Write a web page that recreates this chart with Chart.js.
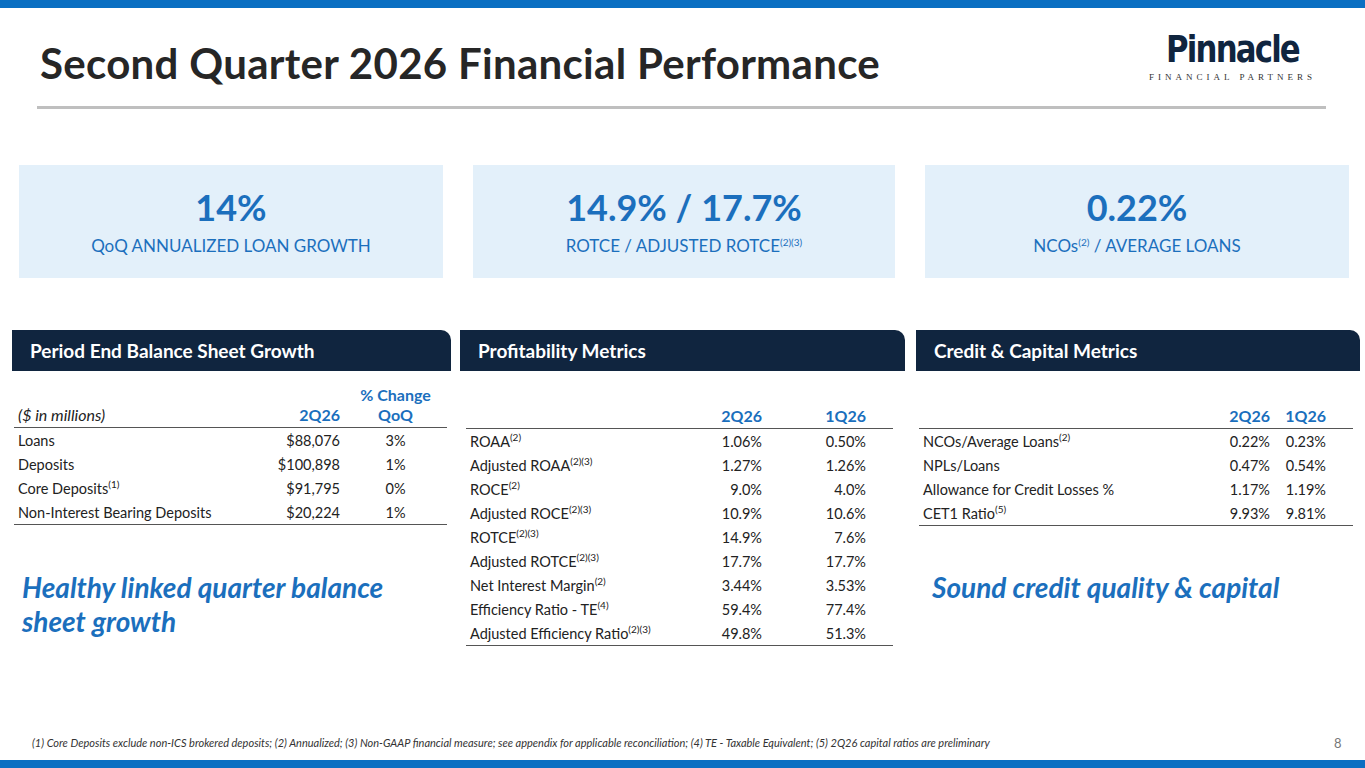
<!DOCTYPE html>
<html><head><meta charset="utf-8">
<script src="https://cdn.jsdelivr.net/npm/chart.js@4.4.1/dist/chart.umd.min.js"></script>
<style>
body{margin:0;width:1365px;height:768px;position:relative;overflow:hidden;font-family:Lato,"Open Sans",sans-serif;background:#fff;color:#222}
.abs{position:absolute}
.bar{left:0;width:1365px;height:8px;background:#0a6fc2}
h1{position:absolute;left:40px;top:38px;margin:0;font-size:42px;font-weight:700;color:#262626;letter-spacing:0.3px}
.kpi{top:165px;height:113px;background:#e3f0fa;text-align:center}
.kpi .big{font-size:36px;font-weight:700;color:#1b6fbd;margin-top:20px}
.kpi .sub{font-size:17px;color:#1b6fbd;margin-top:6px}
sup{font-size:10px;vertical-align:6px;line-height:0}
.hd{top:330px;height:41px;background:#10253f;color:#fff;font-weight:700;font-size:19px;line-height:41px;padding-left:18px;box-sizing:border-box;border-top-right-radius:10px}
table{position:absolute;border-collapse:collapse;font-size:14.5px}
td,th{padding:0 4px;height:24px}
th{color:#1b6fbd;font-weight:700;font-size:16px;vertical-align:bottom;border-bottom:1px solid #555;line-height:20px;padding-bottom:2px}
th.l{color:#222;font-weight:400;font-style:italic;text-align:left}
td.r,th.r{text-align:right}
td.c,th.c{text-align:center}
td.p,th.p{text-align:right;padding-right:27px}
tr:last-child td{border-bottom:1px solid #555}
.note{font-size:28px;font-weight:700;font-style:italic;color:#1b6fbd;line-height:34px}
</style></head><body>
<div class="abs bar" style="top:0"></div>
<div class="abs bar" style="top:760px"></div>
<h1>Second Quarter 2026 Financial Performance</h1>
<div class="abs" style="left:37px;top:106px;width:1289px;height:3px;background:#bfbfbf"></div>
<div class="abs" style="left:1140px;top:30px;width:185px;text-align:center">
 <div style="font-size:38px;font-weight:700;color:#10253f;line-height:38px;letter-spacing:-2px;font-family:'DejaVu Sans Condensed','DejaVu Sans';transform:scaleX(0.9)">Pinnacle</div>
 <div style="font-size:9px;letter-spacing:4px;color:#333;font-family:'Liberation Serif';margin-top:4px;white-space:nowrap">FINANCIAL PARTNERS</div>
</div>
<div id="kpis"></div>
<div class="abs hd" style="left:12px;width:439px">Period End Balance Sheet Growth</div>
<div class="abs hd" style="left:460px;width:445px">Profitability Metrics</div>
<div class="abs hd" style="left:916px;width:444px">Credit &amp; Capital Metrics</div>
<div id="tables"></div>
<div class="abs note" style="left:22px;top:570px">Healthy linked quarter balance<br>sheet growth</div>
<div class="abs note" style="left:932px;top:570px">Sound credit quality &amp; capital</div>
<div class="abs" style="left:32px;top:736px;font-size:11px;font-style:italic;color:#333">(1) Core Deposits exclude non-ICS brokered deposits; (2) Annualized; (3) Non-GAAP financial measure; see appendix for applicable reconciliation; (4) TE - Taxable Equivalent; (5) 2Q26 capital ratios are preliminary</div>
<div class="abs" style="left:1334px;top:735px;font-size:13px;color:#777">8</div>
<canvas id="c" width="1" height="1" style="position:absolute;left:0;top:0;width:1px;height:1px"></canvas>
<script>
const kpiValues = ['14%', '14.9% / 17.7%', '0.22%'];
const kpiLabels = ['QoQ ANNUALIZED LOAN GROWTH', 'ROTCE / ADJUSTED ROTCE<sup>(2)(3)</sup>', 'NCOs<sup>(2)</sup> / AVERAGE LOANS'];

const balanceRows = ['Loans', 'Deposits', 'Core Deposits<sup>(1)</sup>', 'Non-Interest Bearing Deposits'];
const balance2Q26 = ['$88,076', '$100,898', '$91,795', '$20,224'];
const balanceQoQ = ['3%', '1%', '0%', '1%'];

const profitRows = ['ROAA<sup>(2)</sup>', 'Adjusted ROAA<sup>(2)(3)</sup>', 'ROCE<sup>(2)</sup>', 'Adjusted ROCE<sup>(2)(3)</sup>', 'ROTCE<sup>(2)(3)</sup>', 'Adjusted ROTCE<sup>(2)(3)</sup>', 'Net Interest Margin<sup>(2)</sup>', 'Efficiency Ratio - TE<sup>(4)</sup>', 'Adjusted Efficiency Ratio<sup>(2)(3)</sup>'];
const profit2Q26 = ['1.06%', '1.27%', '9.0%', '10.9%', '14.9%', '17.7%', '3.44%', '59.4%', '49.8%'];
const profit1Q26 = ['0.50%', '1.26%', '4.0%', '10.6%', '7.6%', '17.7%', '3.53%', '77.4%', '51.3%'];

const creditRows = ['NCOs/Average Loans<sup>(2)</sup>', 'NPLs/Loans', 'Allowance for Credit Losses %', 'CET1 Ratio<sup>(5)</sup>'];
const credit2Q26 = ['0.22%', '0.47%', '1.17%', '9.93%'];
const credit1Q26 = ['0.23%', '0.54%', '1.19%', '9.81%'];

const kx = [[19, 424], [473, 422], [925, 424]];
document.getElementById('kpis').innerHTML = kpiValues.map((v, i) =>
  `<div class="abs kpi" style="left:${kx[i][0]}px;width:${kx[i][1]}px"><div class="big">${v}</div><div class="sub">${kpiLabels[i]}</div></div>`).join('');

function table(left, top, widths, head, rows, cols, align) {
  let h = `<table style="left:${left}px;top:${top}px;width:${widths.reduce((a, b) => a + b)}px"><colgroup>${widths.map(w => `<col style="width:${w}px">`).join('')}</colgroup><tr>`;
  h += head.map((t, i) => `<th class="${i === 0 ? 'l' : align[i]}">${t}</th>`).join('') + '</tr>';
  rows.forEach((r, j) => {
    h += `<tr><td>${r}</td>` + cols.map((c, i) => `<td class="${align[i + 1]}">${c[j]}</td>`).join('') + '</tr>';
  });
  return h + '</table>';
}
document.getElementById('tables').innerHTML =
  table(14, 385, [250, 80, 103], ['($ in millions)', '2Q26', '% Change<br>QoQ'], balanceRows, [balance2Q26, balanceQoQ], ['', 'r', 'c']) +
  table(466, 402, [200, 100, 127], ['', '2Q26', '1Q26'], profitRows, [profit2Q26, profit1Q26], ['', 'r', 'p']) +
  table(919, 402, [250, 105, 79], ['', '2Q26', '1Q26'], creditRows, [credit2Q26, credit1Q26], ['', 'r', 'p']);

new Chart(document.getElementById('c'), {type: 'bar', data: {labels: [], datasets: []}, options: {animation: false, responsive: false, plugins: {legend: {display: false}}, scales: {x: {display: false}, y: {display: false}}}});
</script>
</body></html>
